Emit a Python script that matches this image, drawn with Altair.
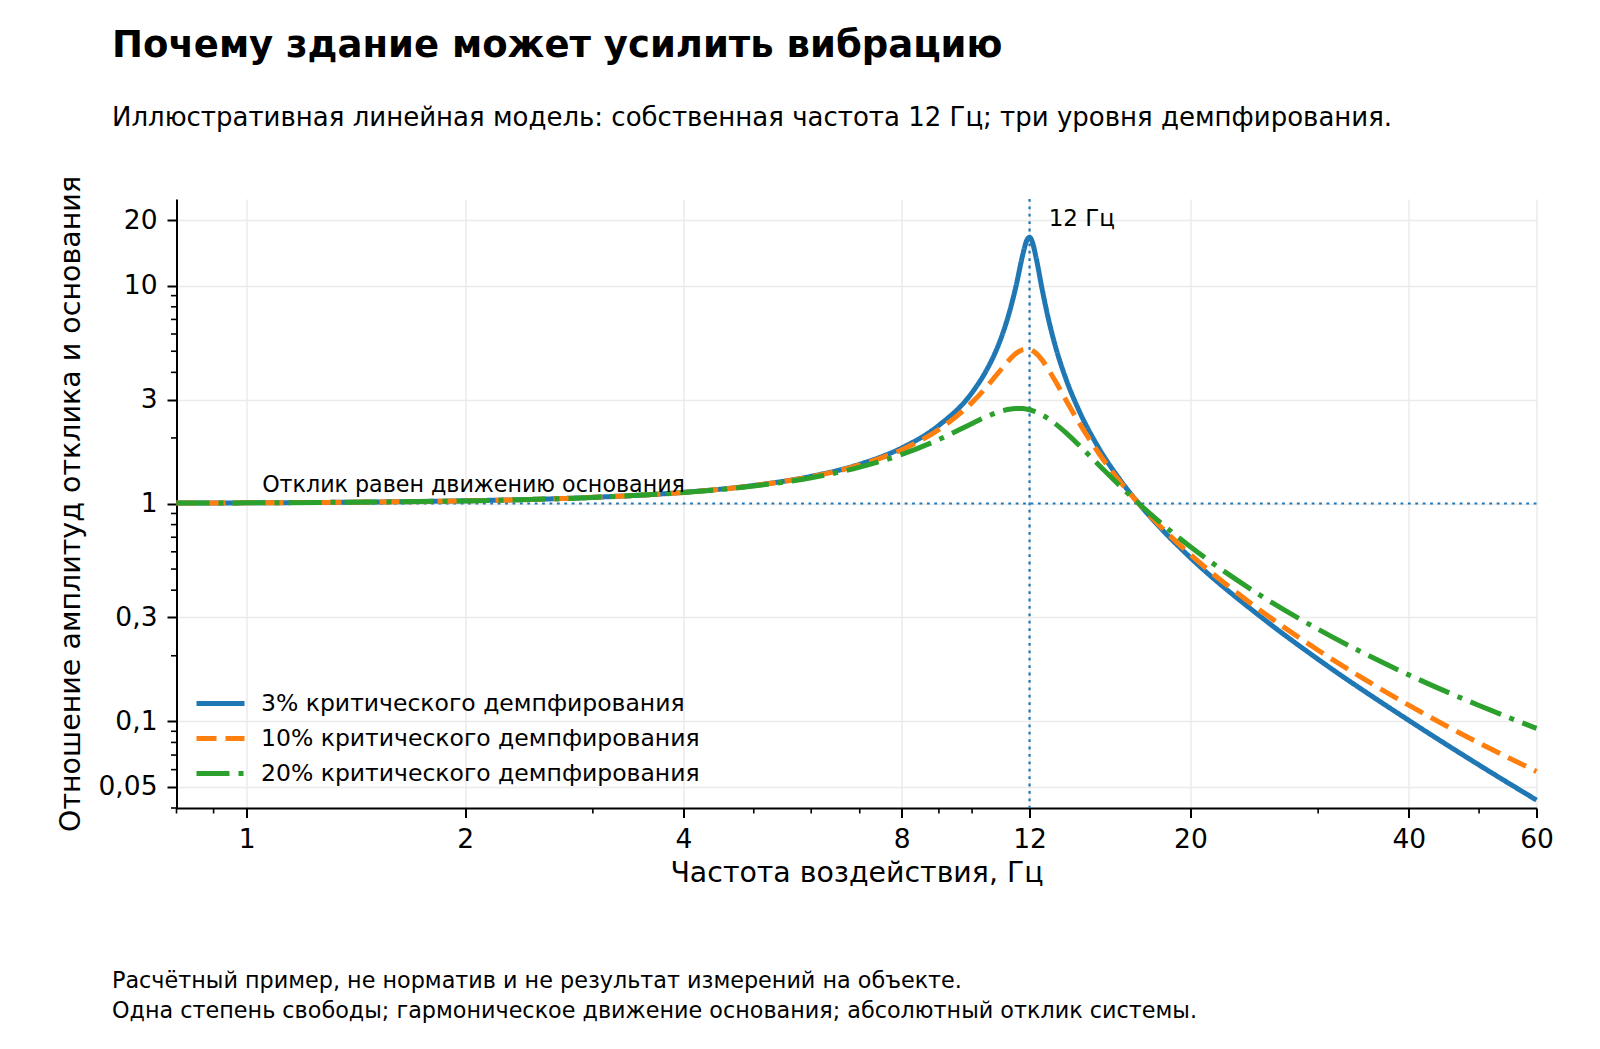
import altair as alt
import pandas as pd

# ---------------- data ----------------
freq = [0.8, 1, 1.5, 2, 3, 4, 5, 6, 7, 8, 9, 10, 10.5, 10.75, 11, 11.25, 11.5, 11.75,
        11.9, 12, 12.1, 12.25, 12.5, 12.75, 13, 13.5, 14, 15, 16, 17, 18, 20, 25, 30,
        40, 50, 60]
resp_3 = [1.004, 1.007, 1.016, 1.029, 1.067, 1.125, 1.21, 1.333, 1.515, 1.80, 2.285,
          3.23, 4.17, 4.89, 5.93, 7.5, 10.0, 13.95, 16.2, 16.7, 15.96, 13.5, 9.5, 6.97,
          5.4, 3.66, 2.73, 1.765, 1.283, 0.993, 0.801, 0.564, 0.302, 0.1925, 0.101,
          0.063, 0.0435]
resp_10 = [1.004, 1.007, 1.016, 1.028, 1.067, 1.124, 1.208, 1.328, 1.503, 1.766, 2.186,
           2.912, 3.47, 3.81, 4.18, 4.56, 4.89, 5.09, 5.12, 5.10, 5.04, 4.895, 4.54,
           4.11, 3.686, 2.945, 2.389, 1.675, 1.259, 0.994, 0.812, 0.583, 0.322, 0.212,
           0.1186, 0.0795, 0.0589]
resp_20 = [1.004, 1.007, 1.016, 1.028, 1.066, 1.1225, 1.203, 1.314, 1.468, 1.68, 1.968,
           2.331, 2.515, 2.597, 2.663, 2.71, 2.732, 2.727, 2.71, 2.693, 2.671, 2.631,
           2.547, 2.447, 2.335, 2.098, 1.870, 1.486, 1.202, 0.995, 0.841, 0.633, 0.378,
           0.2646, 0.1634, 0.1182, 0.0928]
series_names = ["3% критического демпфирования",
                "10% критического демпфирования",
                "20% критического демпфирования"]
series_colors = ["#1f77b4", "#ff7f0e", "#2ca02c"]
series_dashes = [[1, 0], [20, 9], [33, 9, 5, 9]]

x_major = [1, 2, 4, 8, 12, 20, 40, 60]
x_minor = [0.8, 0.9, 3, 5, 6, 7, 9, 10, 30, 50]
y_major = [0.05, 0.1, 0.3, 1, 3, 10, 20]
y_minor = [0.04, 0.06, 0.07, 0.08, 0.09, 0.2, 0.4, 0.5, 0.6, 0.7, 0.8, 0.9,
           2, 4, 5, 6, 7, 8, 9]
x_domain = [0.8, 60]
y_domain = [0.04, 25]

natural_freq = [12]
unity = [1]
natural_label = ["12 Гц"]
natural_label_pos = ([12.75], [18.8])
unity_label = ["Отклик равен движению основания"]
unity_label_pos = ([1.05], [1.135])

title_text = "Почему здание может усилить вибрацию"
subtitle_text = "Иллюстративная линейная модель: собственная частота 12 Гц; три уровня демпфирования."
footer_lines = ["Расчётный пример, не норматив и не результат измерений на объекте.",
                "Одна степень свободы; гармоническое движение основания; абсолютный отклик системы."]
x_title = "Частота воздействия, Гц"
y_title = "Отношение амплитуд отклика и основания"

# ---------------- layout ----------------
W, H = 1360, 609
FONT = "DejaVu Sans"

xaxis = alt.Axis(values=x_major, labelExpr="format(datum.value, '~g')",
                 grid=True, gridColor="#ebebeb", gridWidth=1.5,
                 domainColor="black", domainWidth=2, tickColor="black", tickWidth=2,
                 tickSize=9.5, labelPadding=9, labelFontSize=26.5, labelColor="black",
                 labelFont=FONT, title=x_title, titleFontSize=28.4, titleFont=FONT,
                 titleFontWeight="normal", titleColor="black", titlePadding=6,
                 labelFlush=False, labelOverlap=False)
yaxis = alt.Axis(values=y_major,
                 labelExpr="replace(format(datum.value, '~g'), '.', ',')",
                 grid=True, gridColor="#ebebeb", gridWidth=1.5,
                 domainColor="black", domainWidth=2, tickColor="black", tickWidth=2,
                 tickSize=9.5, labelPadding=10, labelFontSize=26.5, labelColor="black",
                 labelFont=FONT, title=y_title, titleFontSize=28.5, titleFont=FONT,
                 titleFontWeight="normal", titleColor="black", titlePadding=12,
                 labelOverlap=False)

xscale = alt.Scale(type="log", domain=x_domain, nice=False)
yscale = alt.Scale(type="log", domain=y_domain, nice=False)


def X():
    return alt.X("f:Q", scale=xscale, axis=xaxis)


def Y():
    return alt.Y("v:Q", scale=yscale, axis=yaxis)


legend = alt.Legend(title=None, orient="none", legendX=31.5, legendY=492,
                    symbolType="M-2.4,0L2.4,0", symbolSize=400, symbolStrokeWidth=5,
                    labelFontSize=23.5, labelFont=FONT, labelColor="black",
                    labelOffset=28, rowPadding=11, padding=0, labelLimit=800)

color = alt.Color("s:N", scale=alt.Scale(domain=series_names, range=series_colors),
                  legend=legend)
dash = alt.StrokeDash("s:N", scale=alt.Scale(domain=series_names, range=series_dashes),
                      legend=legend)

layers = []

# reference lines
layers.append(alt.Chart(pd.DataFrame({"v": unity})).mark_rule(
    color="#1f77b4", strokeWidth=2.2, strokeDash=[2.8, 4.6]).encode(y=Y()))
layers.append(alt.Chart(pd.DataFrame({"f": natural_freq})).mark_rule(
    color="#1f77b4", strokeWidth=2.2, strokeDash=[2.8, 4.6]).encode(x=X()))

# response curves
for name, vals in zip(series_names, [resp_3, resp_10, resp_20]):
    df = pd.DataFrame({"f": freq, "v": vals, "s": name})
    layers.append(alt.Chart(df).mark_line(strokeWidth=5, interpolate="monotone",
                                          strokeCap="butt").encode(
        x=X(), y=Y(), color=color, strokeDash=dash))

# minor ticks
layers.append(alt.Chart(pd.DataFrame({"f": x_minor})).mark_rule(
    color="black", strokeWidth=1.6).encode(x=X(), y=alt.value(H), y2=alt.value(H + 5.5)))
layers.append(alt.Chart(pd.DataFrame({"v": y_minor})).mark_rule(
    color="black", strokeWidth=1.6).encode(y=Y(), x=alt.value(0), x2=alt.value(-5.5)))

# annotations
layers.append(alt.Chart(pd.DataFrame({"f": natural_label_pos[0], "v": natural_label_pos[1],
                                      "t": natural_label})).mark_text(
    align="left", baseline="alphabetic", fontSize=23, font=FONT, color="black").encode(
    x=X(), y=Y(), text="t:N"))
layers.append(alt.Chart(pd.DataFrame({"f": unity_label_pos[0], "v": unity_label_pos[1],
                                      "t": unity_label})).mark_text(
    align="left", baseline="alphabetic", fontSize=22.2, font=FONT, color="black").encode(
    x=X(), y=Y(), text="t:N"))

# title, subtitle, footer
layers.append(alt.Chart(pd.DataFrame({"t": [title_text]})).mark_text(
    align="left", baseline="alphabetic", fontSize=37, fontWeight="bold", font=FONT,
    color="black").encode(x=alt.value(-64.5), y=alt.value(-142.5), text="t:N"))
layers.append(alt.Chart(pd.DataFrame({"t": [subtitle_text]})).mark_text(
    align="left", baseline="alphabetic", fontSize=26, font=FONT,
    color="black").encode(x=alt.value(-64.5), y=alt.value(-73), text="t:N"))
for i, line in enumerate(footer_lines):
    layers.append(alt.Chart(pd.DataFrame({"t": [line]})).mark_text(
        align="left", baseline="alphabetic", fontSize=22.3, font=FONT,
        color="black").encode(x=alt.value(-64.5), y=alt.value(789 + 30 * i), text="t:N"))

chart = alt.layer(*layers).properties(
    width=W, height=H,
    autosize=alt.AutoSizeParams(type="none"),
    padding={"left": 168.5, "top": 191, "right": 55.5, "bottom": 225},
).configure(font=FONT).configure_view(stroke=None)

chart.save("out.html", embed_options={"renderer": "svg", "actions": False})
